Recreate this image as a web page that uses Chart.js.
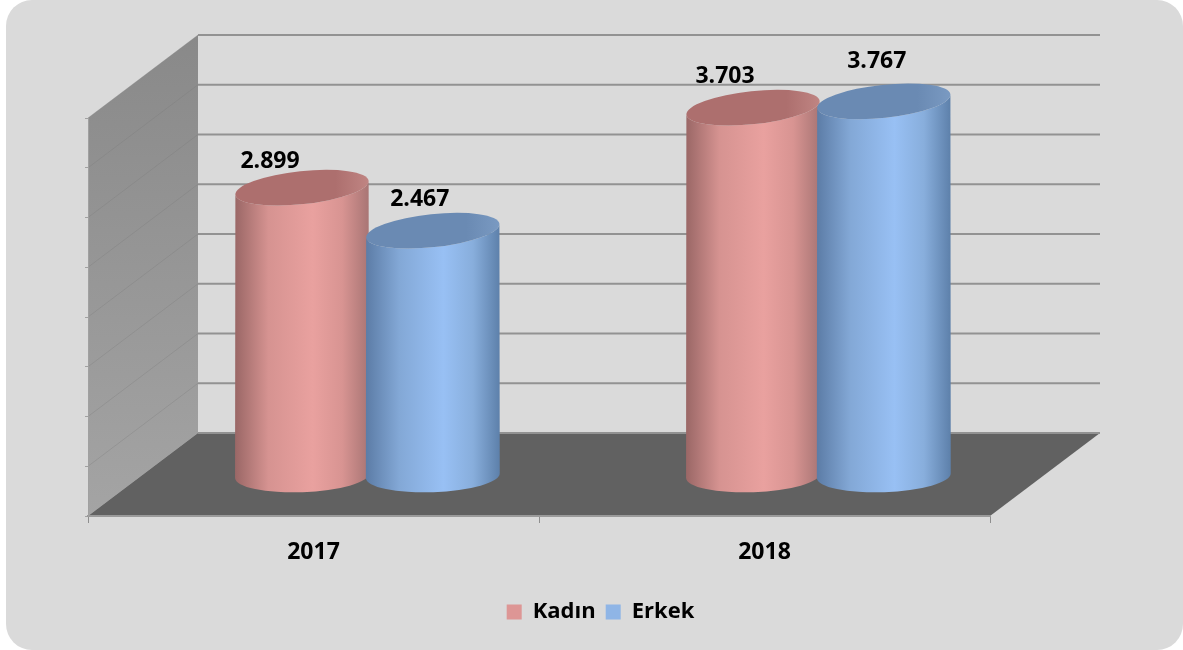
<!DOCTYPE html>
<html>
<head>
<meta charset="utf-8">
<title>Kadın Erkek</title>
<script src="https://cdn.jsdelivr.net/npm/chart.js@4/dist/chart.umd.min.js"></script>
<style>
html, body { margin: 0; padding: 0; background: #fff; overflow: hidden; }
#panel { position: absolute; left: 6px; top: 0; width: 1177px; height: 650px; background: #dadada; border-radius: 26px; }
#wrap { position: absolute; left: 0; top: 0; width: 1183px; height: 650px; }
</style>
</head>
<body>
<div id="panel"></div>
<div id="wrap"><canvas id="myChart"></canvas></div>
<script>
const years = ['2017', '2018'];
const kadin = [2899, 3703];
const erkek = [2467, 3767];

const depthX = 110;
const depthY = 83;
const barDepthX = 0.49;
const barDepthY = 0.48;
const tilt = -0.105;
const fontName = '"Open Sans", sans-serif';

// hand placed in the original, so each label has its own nudge from the cap centre
const labelNudge = [[[-32, -26], [-28, -31]], [[-13, -31], [-7, -40]]];

const looks = [
    { edgeL: '#9a6766', inner: '#d69391', mid: '#e9a19f', outer: '#d89492', edgeR: '#a87574', cap: '#ad6f6e', capR: '#c08583' },
    { edgeL: '#5c7ca6', inner: '#83a8d6', mid: '#98c0f4', outer: '#88aedc', edgeR: '#5d80aa', cap: '#6a8ab3', capR: '#7a9ac2' }
];

const room = {
    id: 'room',
    beforeDraw(chart) {
        const c = chart.ctx;
        const a = chart.chartArea;
        const y = chart.scales.y;
        c.save();
        // left wall
        const wall = c.createLinearGradient(0, a.top - depthY, 0, a.bottom);
        wall.addColorStop(0, '#898989');
        wall.addColorStop(1, '#a4a4a4');
        c.fillStyle = wall;
        c.beginPath();
        c.moveTo(a.left, a.top);
        c.lineTo(a.left + depthX, a.top - depthY);
        c.lineTo(a.left + depthX, a.bottom - depthY);
        c.lineTo(a.left, a.bottom);
        c.closePath();
        c.fill();
        // floor
        c.fillStyle = '#616161';
        c.beginPath();
        c.moveTo(a.left, a.bottom);
        c.lineTo(a.left + depthX, a.bottom - depthY);
        c.lineTo(a.right + depthX, a.bottom - depthY);
        c.lineTo(a.right, a.bottom);
        c.closePath();
        c.fill();
        // grid on the wall and on the back
        y.ticks.forEach(t => {
            const py = y.getPixelForValue(t.value);
            if (t.value > 0) {
                c.strokeStyle = 'rgba(120,120,120,0.3)';
                c.lineWidth = 1;
                c.beginPath();
                c.moveTo(a.left, py);
                c.lineTo(a.left + depthX, py - depthY);
                c.stroke();
            }
            c.strokeStyle = '#929292';
            c.lineWidth = 2;
            c.beginPath();
            c.moveTo(a.left + depthX, py - depthY);
            c.lineTo(a.right + depthX, py - depthY);
            c.stroke();
        });
        c.restore();
    },
    beforeDatasetsDraw(chart) {
        const c = chart.ctx;
        const ry = 16.5;
        chart.data.datasets.forEach((ds, i) => {
            const look = looks[i];
            chart.getDatasetMeta(i).data.forEach((bar) => {
                const rx = bar.width / 2 + 1.6;
                const cx = bar.x + depthX * barDepthX;
                const topY = bar.y - depthY * barDepthY;
                const baseY = bar.base - depthY * barDepthY;
                c.save();
                const side = c.createLinearGradient(cx - rx, 0, cx + rx, 0);
                side.addColorStop(0, look.edgeL);
                side.addColorStop(0.25, look.inner);
                side.addColorStop(0.58, look.mid);
                side.addColorStop(0.8, look.outer);
                side.addColorStop(1, look.edgeR);
                c.fillStyle = side;
                c.beginPath();
                c.ellipse(cx, topY, rx, ry, tilt, Math.PI, 0, true);
                c.ellipse(cx, baseY, rx, ry, tilt / 3, 0, Math.PI, false);
                c.closePath();
                c.fill();
                const cap = c.createLinearGradient(cx - rx, 0, cx + rx, 0);
                cap.addColorStop(0, look.cap);
                cap.addColorStop(0.75, look.cap);
                cap.addColorStop(1, look.capR);
                c.fillStyle = cap;
                c.beginPath();
                c.ellipse(cx, topY, rx, ry, tilt, 0, Math.PI * 2);
                c.fill();
                c.restore();
            });
        });
        // labels last so the next bar does not cover them
        c.save();
        c.font = 'bold 23px ' + fontName;
        c.fillStyle = '#000';
        c.textAlign = 'center';
        c.textBaseline = 'middle';
        chart.data.datasets.forEach((ds, i) => {
            chart.getDatasetMeta(i).data.forEach((bar, j) => {
                const txt = ds.data[j].toLocaleString('tr-TR');
                const n = labelNudge[i][j];
                c.fillText(txt, bar.x + depthX * barDepthX + n[0], bar.y - depthY * barDepthY + n[1]);
            });
        });
        c.restore();
        return false;
    }
};

const ctx = document.getElementById('myChart').getContext('2d');
const myChart = new Chart(ctx, {
    type: 'bar',
    data: {
        labels: years,
        datasets: [
            { label: 'Kadın', data: kadin, backgroundColor: '#dd9695', categoryPercentage: 0.58, barPercentage: 1 },
            { label: 'Erkek', data: erkek, backgroundColor: '#8fb5e6', categoryPercentage: 0.58, barPercentage: 1 }
        ]
    },
    plugins: [room],
    options: {
        responsive: true,
        maintainAspectRatio: false,
        animation: false,
        layout: { padding: { left: 18, right: 0, top: 118, bottom: 17 } },
        scales: {
            x: {
                grid: { drawOnChartArea: false, color: '#8e8e8e', tickLength: 7, offset: true },
                border: { color: '#9a9a9a', width: 2 },
                ticks: { color: '#000', padding: 16, font: { family: fontName, size: 23, weight: 'bold' } },
                afterFit(scale) { scale.height = 75; }
            },
            y: {
                min: 0,
                max: 4000,
                ticks: { stepSize: 500, display: false },
                grid: { drawOnChartArea: false, color: '#a0a0a0', tickLength: 3 },
                border: { color: '#a0a0a0' },
                afterFit(scale) { scale.width = 70; }
            },
            // empty axis on the right, keeps the plot left of the legend centre
            pad: {
                position: 'right',
                ticks: { display: false },
                grid: { display: false },
                border: { display: false },
                afterFit(scale) { scale.width = 193; }
            }
        },
        plugins: {
            legend: {
                position: 'bottom',
                labels: {
                    color: '#000',
                    boxWidth: 15,
                    boxHeight: 15,
                    padding: 10,
                    font: { family: fontName, size: 22, weight: 'bold' }
                }
            },
            tooltip: { enabled: false }
        }
    }
});
</script>
</body>
</html>
